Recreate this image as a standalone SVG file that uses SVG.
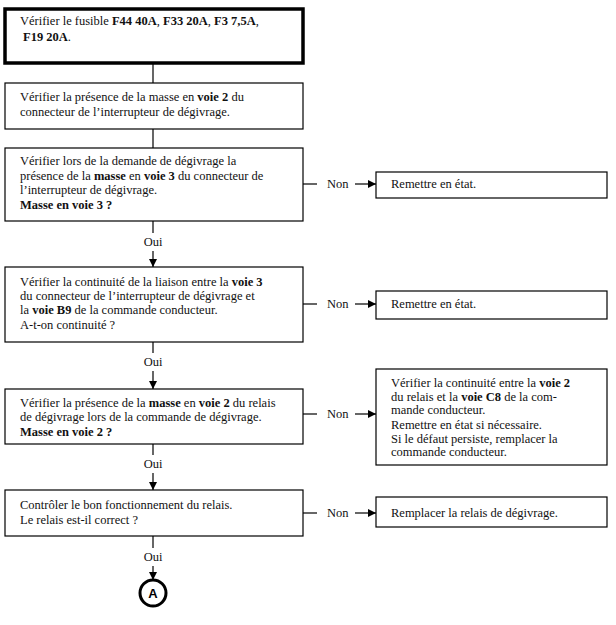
<svg xmlns="http://www.w3.org/2000/svg" width="616" height="625" viewBox="0 0 616 625">
<style>
.box{fill:#fff;stroke:#000;stroke-width:1.2}
.thick{fill:#fff;stroke:#000;stroke-width:3.5}
.t{font-family:"Liberation Serif",serif;font-size:12.5px;fill:#111}
.b{font-weight:bold}
.ln{stroke:#000;stroke-width:1.2;fill:none}
.lbl{font-family:"Liberation Serif",serif;font-size:12.5px;fill:#111}
</style>
<defs>
<marker id="ah" markerWidth="8" markerHeight="8" refX="8" refY="4" orient="auto" markerUnits="userSpaceOnUse">
<path d="M0,0 L8,4 L0,8 Z" fill="#000"/>
</marker>
</defs>
<rect width="616" height="625" fill="#fff"/>
<g id="connectors">
<line class="ln" x1="153" y1="63" x2="153" y2="83"/>
<line class="ln" x1="153" y1="129" x2="153" y2="148"/>
<line class="ln" x1="153" y1="221" x2="153" y2="233"/>
<line class="ln" x1="153" y1="251" x2="153" y2="267" marker-end="url(#ah)"/>
<line class="ln" x1="153" y1="342" x2="153" y2="353"/>
<line class="ln" x1="153" y1="371" x2="153" y2="389" marker-end="url(#ah)"/>
<line class="ln" x1="153" y1="444" x2="153" y2="455"/>
<line class="ln" x1="153" y1="473" x2="153" y2="490" marker-end="url(#ah)"/>
<line class="ln" x1="153" y1="536" x2="153" y2="548"/>
<line class="ln" x1="153" y1="566" x2="153" y2="580" marker-end="url(#ah)"/>
<text class="lbl" x="153" y="246" text-anchor="middle">Oui</text>
<text class="lbl" x="153" y="366" text-anchor="middle">Oui</text>
<text class="lbl" x="153" y="468" text-anchor="middle">Oui</text>
<text class="lbl" x="153" y="561" text-anchor="middle">Oui</text>
<line class="ln" x1="303" y1="184" x2="317" y2="184"/>
<line class="ln" x1="355" y1="184" x2="376" y2="184" marker-end="url(#ah)"/>
<text class="lbl" x="327" y="188">Non</text>
<line class="ln" x1="303" y1="304" x2="317" y2="304"/>
<line class="ln" x1="355" y1="304" x2="376" y2="304" marker-end="url(#ah)"/>
<text class="lbl" x="327" y="308">Non</text>
<line class="ln" x1="303" y1="414" x2="317" y2="414"/>
<line class="ln" x1="355" y1="414" x2="376" y2="414" marker-end="url(#ah)"/>
<text class="lbl" x="327" y="418">Non</text>
<line class="ln" x1="303" y1="513" x2="317" y2="513"/>
<line class="ln" x1="355" y1="513" x2="376" y2="513" marker-end="url(#ah)"/>
<text class="lbl" x="327" y="517">Non</text>
</g>
<g id="n1">
<rect class="thick" x="5" y="9" width="298" height="54"/>
<text class="t" x="20" y="25">Vérifier le fusible <tspan class="b">F44 40A</tspan>, <tspan class="b">F33 20A</tspan>, <tspan class="b">F3 7,5A</tspan>,</text>
<text class="t" x="23" y="41"><tspan class="b">F19 20A</tspan>.</text>
</g>
<g id="n2">
<rect class="box" x="5" y="83" width="298" height="46"/>
<text class="t" x="20" y="101">Vérifier la présence de la masse en <tspan class="b">voie 2</tspan> du</text>
<text class="t" x="20" y="116">connecteur de l’interrupteur de dégivrage.</text>
</g>
<g id="n3">
<rect class="box" x="5" y="148" width="298" height="73"/>
<text class="t" x="20" y="165">Vérifier lors de la demande de dégivrage la</text>
<text class="t" x="20" y="180">présence de la <tspan class="b">masse</tspan> en <tspan class="b">voie 3</tspan> du connecteur de</text>
<text class="t" x="20" y="194">l’interrupteur de dégivrage.</text>
<text class="t b" x="20" y="209">Masse en voie 3 ?</text>
</g>
<g id="n4">
<rect class="box" x="5" y="267" width="298" height="75"/>
<text class="t" x="20" y="286">Vérifier la continuité de la liaison entre la <tspan class="b">voie 3</tspan></text>
<text class="t" x="20" y="300">du connecteur de l’interrupteur de dégivrage et</text>
<text class="t" x="20" y="314">la <tspan class="b">voie B9</tspan> de la commande conducteur.</text>
<text class="t" x="20" y="329">A-t-on continuité ?</text>
</g>
<g id="n5">
<rect class="box" x="5" y="389" width="298" height="55"/>
<text class="t" x="20" y="407">Vérifier la présence de la <tspan class="b">masse</tspan> en <tspan class="b">voie 2</tspan> du relais</text>
<text class="t" x="20" y="421">de dégivrage lors de la commande de dégivrage.</text>
<text class="t b" x="20" y="436">Masse en voie 2 ?</text>
</g>
<g id="n6">
<rect class="box" x="5" y="490" width="298" height="46"/>
<text class="t" x="20" y="509">Contrôler le bon fonctionnement du relais.</text>
<text class="t" x="20" y="524">Le relais est-il correct ?</text>
</g>
<g id="r1">
<rect class="box" x="376" y="172" width="231" height="26"/>
<text class="t" x="391" y="188">Remettre en état.</text>
</g>
<g id="r2">
<rect class="box" x="376" y="291" width="231" height="28"/>
<text class="t" x="391" y="308">Remettre en état.</text>
</g>
<g id="r3">
<rect class="box" x="376" y="369" width="231" height="96"/>
<text class="t" x="391" y="387">Vérifier la continuité entre la <tspan class="b">voie 2</tspan></text>
<text class="t" x="391" y="401">du relais et la <tspan class="b">voie C8</tspan> de la com-</text>
<text class="t" x="391" y="414">mande conducteur.</text>
<text class="t" x="391" y="429">Remettre en état si nécessaire.</text>
<text class="t" x="391" y="443">Si le défaut persiste, remplacer la</text>
<text class="t" x="391" y="456">commande conducteur.</text>
</g>
<g id="r4">
<rect class="box" x="376" y="497" width="231" height="30"/>
<text class="t" x="391" y="517">Remplacer la relais de dégivrage.</text>
</g>
<g id="a">
<circle cx="153" cy="593" r="13" fill="#fff" stroke="#000" stroke-width="3"/>
<text x="153" y="598" text-anchor="middle" font-family="Liberation Sans, sans-serif" font-size="13" font-weight="bold" fill="#000">A</text>
</g>
</svg>
